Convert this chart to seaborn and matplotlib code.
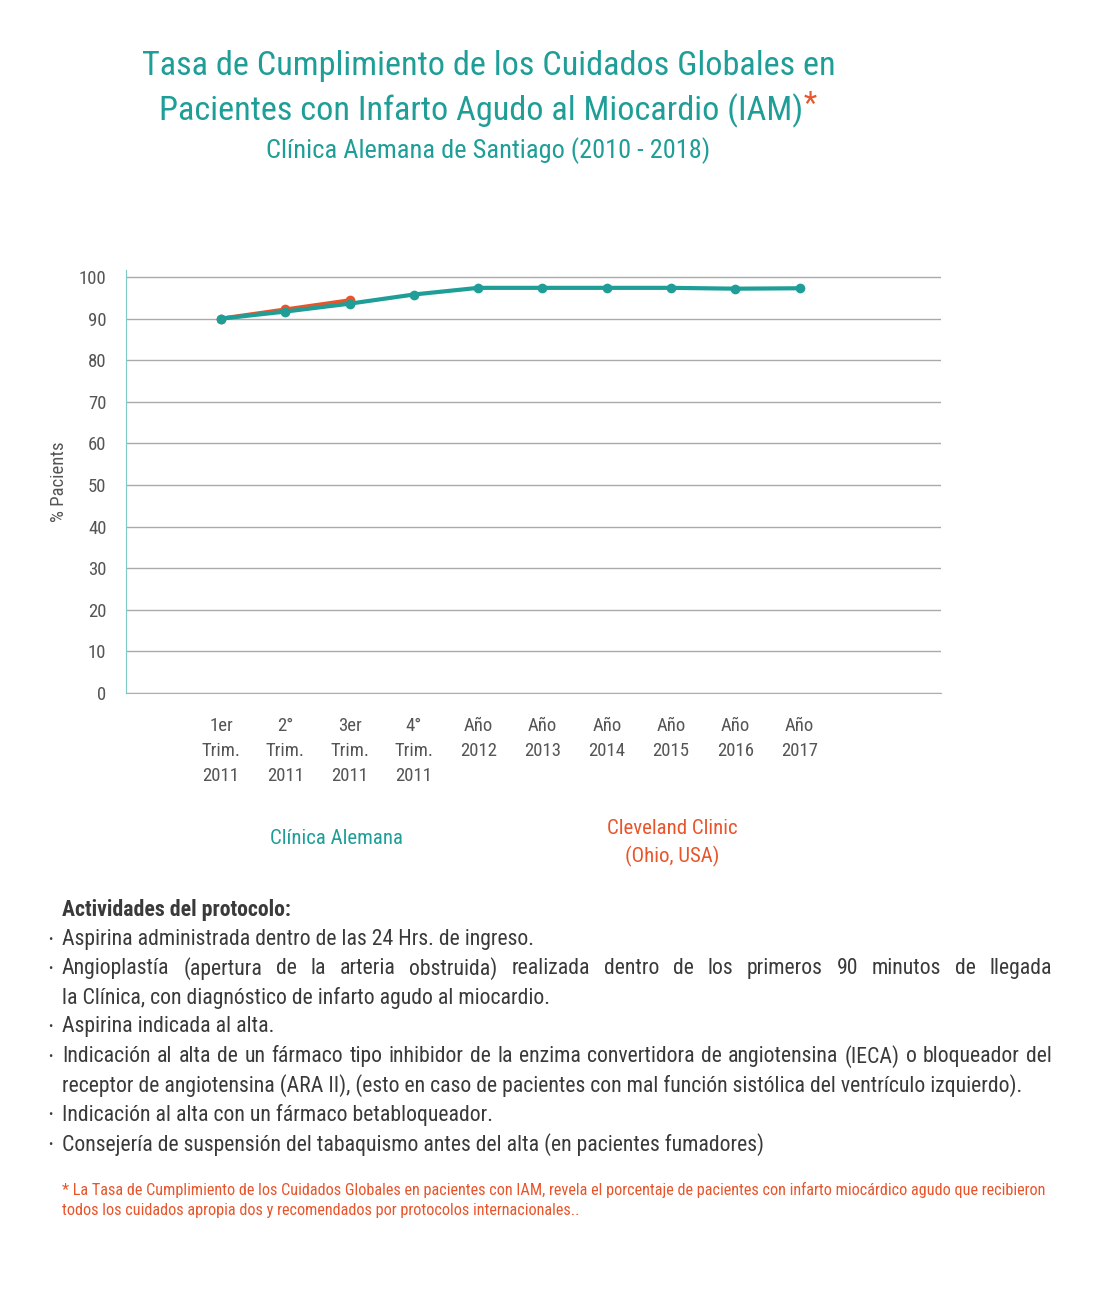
import matplotlib
matplotlib.use("Agg")
import matplotlib.pyplot as plt
import seaborn as sns
import pandas as pd
from matplotlib import font_manager

periodos = ["1er\nTrim.\n2011", "2°\nTrim.\n2011", "3er\nTrim.\n2011", "4°\nTrim.\n2011",
            "Año\n2012", "Año\n2013", "Año\n2014", "Año\n2015", "Año\n2016", "Año\n2017"]
clinica_alemana = [90.0, 91.7, 93.6, 95.8, 97.4, 97.4, 97.4, 97.4, 97.2, 97.3]
cleveland_clinic = [90.0, 92.2, 94.4]
y_ticks = [0, 10, 20, 30, 40, 50, 60, 70, 80, 90, 100]

TEAL = "#1f9e98"
ORANGE = "#e8552b"
GRAY = "#555555"
DARK = "#3a3a3a"

sns.set_style("white")
names = {f.name for f in font_manager.fontManager.ttflist}
fam = [f for f in ["Roboto Condensed", "Liberation Sans Narrow", "DejaVu Sans Condensed"] if f in names]
plt.rcParams["font.family"] = fam + ["DejaVu Sans"]

df = pd.concat([
    pd.DataFrame({"x": range(len(clinica_alemana)), "pct": clinica_alemana, "serie": "Clínica Alemana"}),
    pd.DataFrame({"x": range(len(cleveland_clinic)), "pct": cleveland_clinic, "serie": "Cleveland Clinic"}),
])

fig = plt.figure(figsize=(11, 13.01), dpi=100)
ax = fig.add_axes([0.1145, 0.4673, 0.741, 0.3252])

sns.lineplot(data=df[df.serie == "Cleveland Clinic"], x="x", y="pct", color=ORANGE,
             marker="o", markersize=7, markeredgewidth=0, linewidth=3, ax=ax, zorder=2)
sns.lineplot(data=df[df.serie == "Clínica Alemana"], x="x", y="pct", color=TEAL,
             marker="o", markersize=7, markeredgewidth=0, linewidth=3, ax=ax, zorder=3)

ax.set_ylim(0, 101.7)
ax.set_xlim(-1.48, 11.2)
ax.set_yticks(y_ticks)
ax.set_yticklabels([str(v) for v in y_ticks], fontsize=13.5, color=GRAY)
ax.set_xticks(range(len(periodos)))
ax.set_xticklabels(periodos, fontsize=13.5, color=GRAY, linespacing=1.5, va="top")
ax.tick_params(axis="y", length=0, pad=14)
ax.tick_params(axis="x", length=0, pad=17)
ax.grid(axis="y", color="#aaaaaa", linewidth=1)
ax.set_axisbelow(True)
for s in ["top", "right"]:
    ax.spines[s].set_visible(False)
ax.spines["left"].set_color("#7fcac6")
ax.spines["bottom"].set_color("#9ab8b6")
ax.set_xlabel("")
ax.set_ylabel("% Pacients", fontsize=13.5, color=GRAY, labelpad=8)
if ax.get_legend():
    ax.get_legend().remove()

# titulo
fig.text(0.444, 1 - 66 / 1301, "Tasa de Cumplimiento de los Cuidados Globales en",
         ha="center", va="center", fontsize=24.7, color=TEAL)
t2 = fig.text(0.437, 1 - 111 / 1301, "Pacientes con Infarto Agudo al Miocardio (IAM)",
              ha="center", va="center", fontsize=24.7, color=TEAL)
fig.canvas.draw()
bb = t2.get_window_extent()
fig.text(bb.x1 / 1100 + 0.001, 1 - 104 / 1301, "*", ha="left", va="center", fontsize=22, color=ORANGE)
fig.text(0.444, 1 - 151 / 1301, "Clínica Alemana de Santiago (2010 - 2018)",
         ha="center", va="center", fontsize=19, color=TEAL)

# leyenda
fig.text(336 / 1100, 1 - 839 / 1301, "Clínica Alemana", ha="center", va="center",
         fontsize=15, color=TEAL)
fig.text(672 / 1100, 1 - 843 / 1301, "Cleveland Clinic\n(Ohio, USA)", ha="center", va="center",
         fontsize=15, color=ORANGE, linespacing=1.45)

# actividades
FS = 15.7
fig.text(62 / 1100, 1 - 910 / 1301, "Actividades del protocolo:", ha="left", va="center",
         fontsize=FS, color=DARK, fontweight="bold")
lineas = [
    (True, False, "Aspirina administrada dentro de las 24 Hrs. de ingreso."),
    (True, True, "Angioplastía (apertura de la arteria obstruida) realizada dentro de los primeros 90 minutos de llegada"),
    (False, False, "la Clínica, con diagnóstico de infarto agudo al miocardio."),
    (True, False, "Aspirina indicada al alta."),
    (True, True, "Indicación al alta de un fármaco tipo inhibidor de la enzima convertidora de angiotensina (IECA) o bloqueador del"),
    (False, False, "receptor de angiotensina (ARA II), (esto en caso de pacientes con mal función sistólica del ventrículo izquierdo)."),
    (True, False, "Indicación al alta con un fármaco betabloqueador."),
    (True, False, "Consejería de suspensión del tabaquismo antes del alta (en pacientes fumadores)"),
]
x_left, x_right = 62, 1052
renderer = fig.canvas.get_renderer()
y0 = 939
for i, (bullet, justify, txt) in enumerate(lineas):
    y = 1 - (y0 + i * 29.3) / 1301
    if bullet:
        fig.text(50 / 1100, y, "•", ha="center", va="center", fontsize=9, color=DARK)
    if not justify:
        fig.text(x_left / 1100, y, txt, ha="left", va="center", fontsize=FS, color=DARK)
        continue
    words = txt.split(" ")
    widths = []
    for w in words:
        t = fig.text(0, 0, w, fontsize=FS)
        widths.append(t.get_window_extent(renderer).width)
        t.remove()
    gap = (x_right - x_left - sum(widths)) / (len(words) - 1)
    x = x_left
    for w, wd in zip(words, widths):
        fig.text(x / 1100, y, w, ha="left", va="center", fontsize=FS, color=DARK)
        x += wd + gap

fig.text(62 / 1100, 1 - 1190 / 1301,
         "* La Tasa de Cumplimiento de los Cuidados Globales en pacientes con IAM, revela el porcentaje de pacientes con infarto miocárdico agudo que recibieron",
         ha="left", va="center", fontsize=11.7, color=ORANGE)
fig.text(62 / 1100, 1 - 1211 / 1301,
         "todos los cuidados apropia dos y recomendados por protocolos internacionales..",
         ha="left", va="center", fontsize=11.7, color=ORANGE)

fig.savefig("out.png", dpi=100)
